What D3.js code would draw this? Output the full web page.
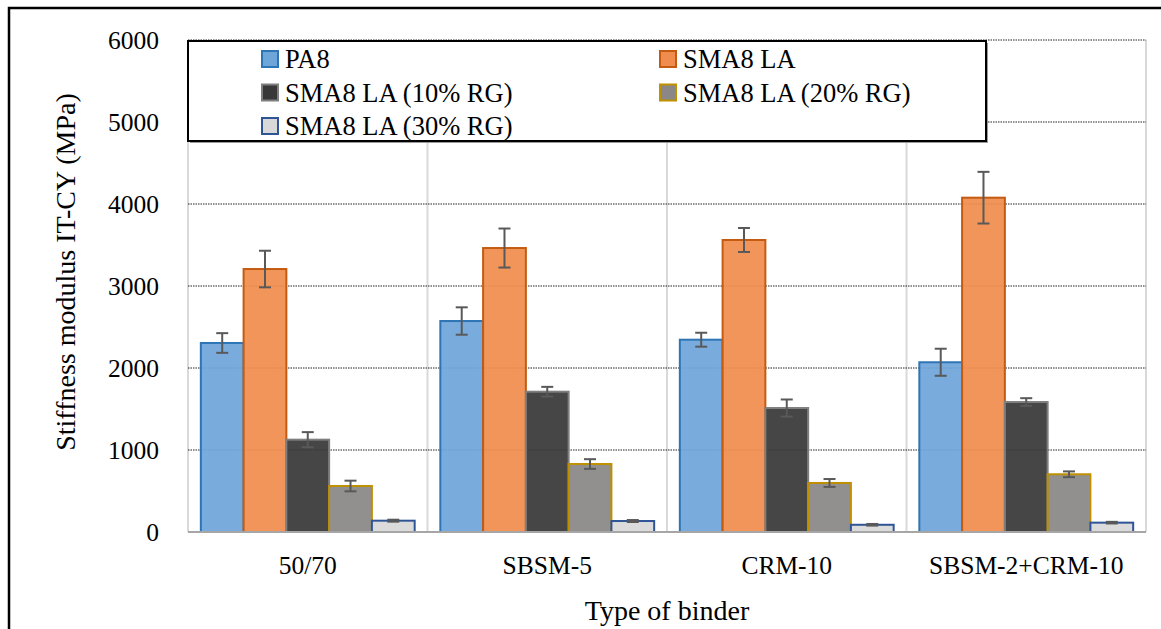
<!DOCTYPE html>
<html lang="en">
<head>
	<meta charset="utf-8">
	<title>Stiffness modulus IT-CY</title>
	<script src="https://d3js.org/d3.v7.min.js"></script>
	<style type="text/css">
		body { margin: 0; background: #fff; }
		svg text { font-family: "Liberation Serif", "Times New Roman", serif; fill: #000; }
		.axis path, .axis line { display: none; }
	</style>
</head>
<body>
<script type="text/javascript">

	// Data
	var categories = ["50/70", "SBSM-5", "CRM-10", "SBSM-2+CRM-10"];
	var seriesNames = ["PA8", "SMA8 LA", "SMA8 LA (10% RG)", "SMA8 LA (20% RG)", "SMA8 LA (30% RG)"];
	var pa8 = [2305, 2573, 2345, 2070];
	var sma8 = [3207, 3463, 3561, 4077];
	var rg10 = [1126, 1711, 1512, 1585];
	var rg20 = [561, 829, 598, 704];
	var rg30 = [138, 134, 88, 114];
	var pa8Err = [120, 167, 85, 165];
	var sma8Err = [223, 238, 146, 315];
	var rg10Err = [92, 59, 104, 47];
	var rg20Err = [65, 59, 48, 35];
	var rg30Err = [12, 12, 10, 10];
	var yTicks = [0, 1000, 2000, 3000, 4000, 5000, 6000];

	var fills = ["#6fa6da", "#f08d4e", "#383838", "#8a8786", "#d8d8d8"];
	var strokes = ["#2e75b6", "#c55a11", "#7f7f7f", "#bf9000", "#2f5597"];

	var values = [pa8, sma8, rg10, rg20, rg30];
	var errors = [pa8Err, sma8Err, rg10Err, rg20Err, rg30Err];

	var width = 1161, height = 629;
	var plot = {left: 188, right: 1146, top: 40, bottom: 532};

	var svg = d3.select("body").append("svg")
		.attr("width", width)
		.attr("height", height);

	// outer frame (only top and left edges are inside the picture)
	svg.append("rect")
		.attr("x", 9).attr("y", 8)
		.attr("width", 1200).attr("height", 700)
		.attr("fill", "none")
		.attr("stroke", "#000")
		.attr("stroke-width", 2.5);

	var xScale = d3.scaleBand()
		.domain(categories)
		.range([plot.left, plot.right])
		.padding(0);

	var xInner = d3.scaleBand()
		.domain(d3.range(seriesNames.length))
		.range([0, xScale.bandwidth()])
		.paddingInner(0)
		.paddingOuter(0.3);

	var yScale = d3.scaleLinear()
		.domain([0, 6000])
		.range([plot.bottom, plot.top]);

	// vertical separators between categories
	var seps = categories.map(function(c) { return xScale(c); }).concat([plot.right]);
	svg.selectAll(".vgrid")
		.data(seps)
		.enter().append("line")
		.attr("x1", function(d) { return d; })
		.attr("x2", function(d) { return d; })
		.attr("y1", plot.top)
		.attr("y2", plot.bottom)
		.attr("stroke", "#d9d9d9")
		.attr("stroke-width", 2);

	// dotted horizontal grid
	svg.selectAll(".hgrid")
		.data(yTicks.slice(1))
		.enter().append("line")
		.attr("x1", plot.left)
		.attr("x2", plot.right)
		.attr("y1", function(d) { return yScale(d); })
		.attr("y2", function(d) { return yScale(d); })
		.attr("stroke", "#222")
		.attr("stroke-width", 1)
		.attr("stroke-dasharray", "1.5,1");

	// bars
	var groups = svg.selectAll(".series")
		.data(seriesNames)
		.enter().append("g")
		.attr("class", "series");

	groups.each(function(name, s) {
		d3.select(this).selectAll("rect")
			.data(categories)
			.enter().append("rect")
			.attr("x", function(c) { return xScale(c) + xInner(s); })
			.attr("y", function(c, i) { return yScale(values[s][i]); })
			.attr("width", xInner.bandwidth())
			.attr("height", function(c, i) { return plot.bottom - yScale(values[s][i]); })
			.attr("fill", fills[s])
			.attr("fill-opacity", 0.93)
			.attr("stroke", strokes[s])
			.attr("stroke-width", 2);
	});

	// x axis line
	svg.append("line")
		.attr("x1", plot.left).attr("x2", plot.right)
		.attr("y1", plot.bottom).attr("y2", plot.bottom)
		.attr("stroke", "#a6a6a6")
		.attr("stroke-width", 2);

	// error bars
	var capW = 6;
	groups.each(function(name, s) {
		var g = d3.select(this).selectAll(".err")
			.data(categories)
			.enter().append("g")
			.attr("stroke", "#595959")
			.attr("stroke-width", 2);
		var cx = function(c) { return xScale(c) + xInner(s) + xInner.bandwidth() / 2; };
		g.append("line")
			.attr("x1", cx).attr("x2", cx)
			.attr("y1", function(c, i) { return yScale(values[s][i] + errors[s][i]); })
			.attr("y2", function(c, i) { return yScale(values[s][i] - errors[s][i]); });
		g.append("line")
			.attr("x1", function(c) { return cx(c) - capW; })
			.attr("x2", function(c) { return cx(c) + capW; })
			.attr("y1", function(c, i) { return yScale(values[s][i] + errors[s][i]); })
			.attr("y2", function(c, i) { return yScale(values[s][i] + errors[s][i]); });
		g.append("line")
			.attr("x1", function(c) { return cx(c) - capW; })
			.attr("x2", function(c) { return cx(c) + capW; })
			.attr("y1", function(c, i) { return yScale(values[s][i] - errors[s][i]); })
			.attr("y2", function(c, i) { return yScale(values[s][i] - errors[s][i]); });
	});

	// axes
	var yAxis = d3.axisLeft(yScale).tickValues(yTicks).tickSize(0).tickPadding(29).tickFormat(d3.format("d"));
	svg.append("g")
		.attr("class", "axis")
		.attr("transform", "translate(" + plot.left + ",0)")
		.call(yAxis)
		.selectAll("text")
		.style("font-size", "25.5px")
		.style("font-family", "'Liberation Serif', serif");

	var xAxis = d3.axisBottom(xScale).tickSize(0).tickPadding(24);
	svg.append("g")
		.attr("class", "axis")
		.attr("transform", "translate(0," + plot.bottom + ")")
		.call(xAxis)
		.selectAll("text")
		.style("font-size", "25.5px")
		.style("font-family", "'Liberation Serif', serif");

	// axis titles
	svg.append("text")
		.attr("x", (plot.left + plot.right) / 2)
		.attr("y", 620)
		.attr("text-anchor", "middle")
		.style("font-size", "28px")
		.text("Type of binder");

	svg.append("text")
		.attr("transform", "translate(75,272) rotate(-90)")
		.attr("text-anchor", "middle")
		.style("font-size", "28px")
		.text("Stiffness modulus IT-CY (MPa)");

	// legend box
	var leg = {x: 188, y: 41, w: 798, h: 100};
	svg.append("rect")
		.attr("x", leg.x + 2).attr("y", leg.y + 2)
		.attr("width", leg.w).attr("height", leg.h)
		.attr("fill", "#9a9a9a");
	svg.append("rect")
		.attr("x", leg.x).attr("y", leg.y)
		.attr("width", leg.w).attr("height", leg.h)
		.attr("fill", "#fff")
		.attr("stroke", "#000")
		.attr("stroke-width", 2);

	var legPos = [[262, 59], [660, 59], [262, 92.5], [660, 92.5], [262, 126]];
	var items = svg.selectAll(".legend")
		.data(seriesNames)
		.enter().append("g")
		.attr("transform", function(d, i) { return "translate(" + legPos[i][0] + "," + legPos[i][1] + ")"; });
	items.append("rect")
		.attr("x", 0).attr("y", -8)
		.attr("width", 16).attr("height", 16)
		.attr("fill", function(d, i) { return fills[i]; })
		.attr("stroke", function(d, i) { return strokes[i]; })
		.attr("stroke-width", 2);
	items.append("text")
		.attr("x", 23)
		.attr("y", 9)
		.style("font-size", "26.5px")
		.text(function(d) { return d; });

</script>
</body>
</html>
